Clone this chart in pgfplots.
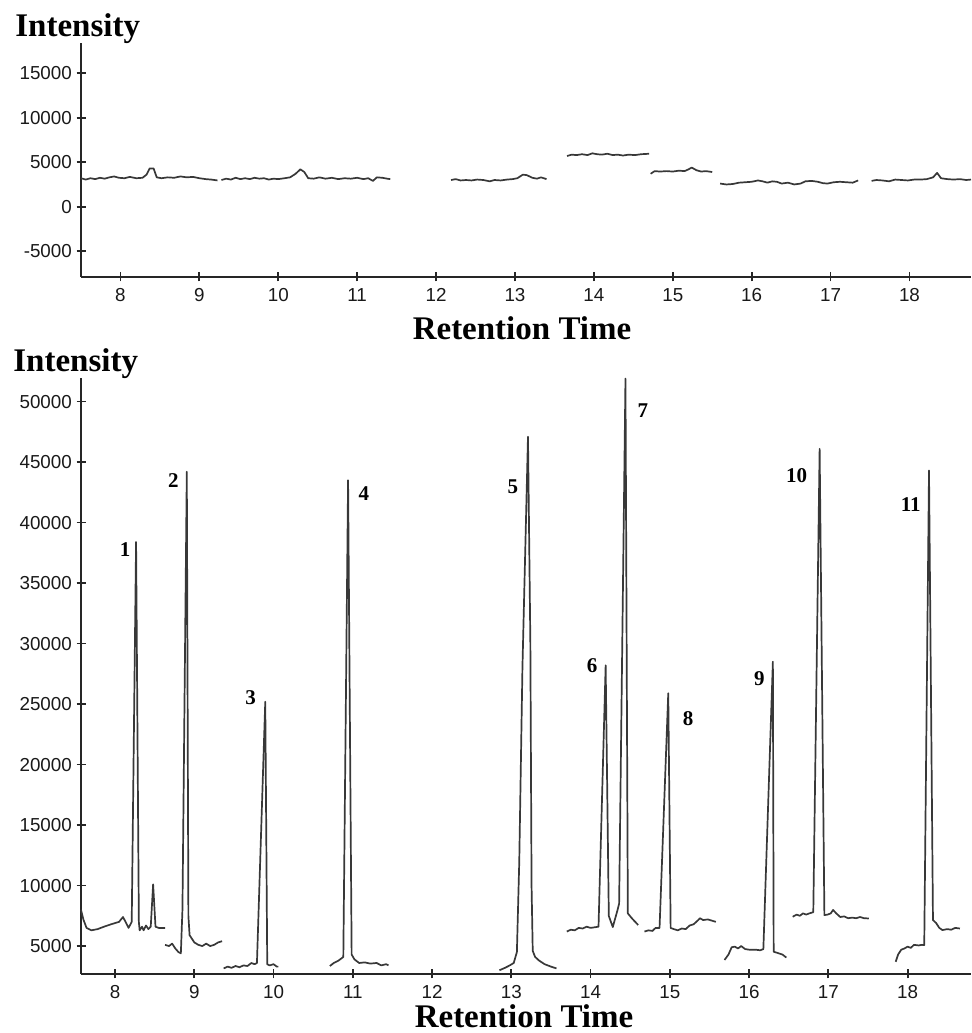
\documentclass[border=0pt]{standalone}
\usepackage{pgfplots}
\pgfplotsset{compat=1.18}
\usepackage{fontspec}
\setmainfont{Liberation Serif}
\newfontfamily\ticksf{Liberation Sans}

\pgfplotsset{
  chrom/.style={
    scale only axis, width=445pt,
    axis lines=left, axis line style={-, line width=0.9pt, black!85},
    tick align=center, major tick length=4.5pt,
    tick style={line width=0.9pt, black!85},
    xtick={8,...,18},
    scaled ticks=false,
    tick label style={font=\ticksf\fontsize{9.4}{11}\selectfont, black!90},
    yticklabel style={xshift=1.2pt},
    /pgf/number format/assume math mode=true,
    /pgf/number format/set thousands separator={},
    clip=false,
  },
  trace/.style={line width=0.85pt, black!78, line join=round, mark=none},
}
\tikzset{pk/.style={font=\bfseries\fontsize{10.5}{12}\selectfont, inner sep=0pt}}

\begin{document}
\begin{tikzpicture}
\path[use as bounding box] (0,0) rectangle (485.5pt,516.5pt);

% ---------- top panel ----------
\begin{axis}[chrom, at={(40.5pt,378pt)}, anchor=south west, height=117pt,
  xmin=7.5, xmax=18.78, ymin=-7900, ymax=18400,
  ytick={-5000,0,5000,10000,15000},
  yticklabels={-5000,0,5000,10000,15000}]
\addplot[trace] coordinates {(7.50,3200)(7.56,3050)(7.62,3200)(7.68,3100)(7.74,3250)(7.80,3150)(7.86,3300)(7.92,3400)(7.98,3250)(8.05,3200)(8.12,3350)(8.20,3200)(8.28,3250)(8.33,3600)(8.37,4300)(8.42,4300)(8.46,3300)(8.52,3200)(8.60,3300)(8.68,3250)(8.76,3400)(8.84,3300)(8.92,3350)(9.00,3200)(9.08,3100)(9.15,3050)(9.23,2950)};
\addplot[trace] coordinates {(9.28,3000)(9.34,3150)(9.40,3050)(9.46,3250)(9.52,3100)(9.58,3200)(9.64,3100)(9.70,3250)(9.76,3150)(9.82,3200)(9.88,3050)(9.94,3150)(10.00,3100)(10.08,3200)(10.15,3300)(10.22,3700)(10.28,4200)(10.33,3900)(10.38,3200)(10.45,3150)(10.52,3300)(10.60,3150)(10.68,3250)(10.76,3100)(10.84,3200)(10.92,3150)(11.00,3250)(11.08,3100)(11.14,3200)(11.20,2900)(11.25,3300)(11.32,3250)(11.38,3150)(11.42,3100)};
\addplot[trace] coordinates {(12.19,3000)(12.25,3100)(12.31,2950)(12.38,3000)(12.45,2950)(12.52,3050)(12.60,3000)(12.68,2850)(12.74,3000)(12.82,2950)(12.90,3050)(12.97,3100)(13.03,3200)(13.10,3600)(13.15,3550)(13.22,3250)(13.28,3150)(13.33,3300)(13.40,3100)};
\addplot[trace] coordinates {(13.66,5700)(13.72,5850)(13.78,5800)(13.85,5900)(13.92,5800)(13.98,6000)(14.04,5900)(14.10,5850)(14.17,5950)(14.24,5800)(14.30,5850)(14.37,5750)(14.44,5850)(14.52,5800)(14.60,5900)(14.70,5950)};
\addplot[trace] coordinates {(14.72,3700)(14.77,4000)(14.84,3950)(14.92,4000)(15.00,3950)(15.08,4050)(15.15,4000)(15.20,4200)(15.24,4400)(15.30,4100)(15.36,3950)(15.42,4000)(15.50,3900)};
\addplot[trace] coordinates {(15.60,2600)(15.68,2500)(15.76,2550)(15.84,2700)(15.92,2750)(16.00,2800)(16.08,2950)(16.14,2850)(16.20,2700)(16.26,2850)(16.32,2800)(16.38,2600)(16.46,2700)(16.54,2500)(16.62,2600)(16.68,2850)(16.76,2900)(16.84,2800)(16.90,2650)(16.96,2600)(17.04,2750)(17.12,2800)(17.20,2750)(17.28,2700)(17.35,2950)};
\addplot[trace] coordinates {(17.52,2900)(17.58,3000)(17.66,2950)(17.74,2850)(17.82,3050)(17.90,3000)(17.98,2950)(18.06,3050)(18.14,3050)(18.22,3100)(18.30,3300)(18.35,3800)(18.40,3200)(18.48,3100)(18.56,3050)(18.64,3100)(18.72,3000)(18.78,3050)};
\end{axis}

% ---------- bottom panel ----------
\begin{axis}[chrom, at={(40.5pt,29.5pt)}, anchor=south west, height=298pt,
  xmin=7.57, xmax=18.8, ymin=2690, ymax=51950,
  ytick={5000,10000,...,50000}]
\addplot[trace] coordinates {(7.57,8000)(7.60,7200)(7.64,6500)(7.70,6300)(7.78,6400)(7.86,6600)(7.95,6800)(8.05,7000)(8.10,7400)(8.14,6900)(8.17,6500)(8.21,7000)(8.265,38400)(8.30,7000)(8.31,6300)(8.34,6600)(8.36,6300)(8.39,6700)(8.42,6400)(8.45,6600)(8.48,10100)(8.51,6600)(8.55,6500)(8.63,6500)};
\addplot[trace] coordinates {(8.63,5100)(8.68,5000)(8.72,5200)(8.76,4800)(8.80,4500)(8.83,4400)(8.85,8000)(8.905,44200)(8.925,7500)(8.94,5900)(9.00,5300)(9.05,5100)(9.10,5000)(9.15,5200)(9.20,5000)(9.25,5100)(9.30,5300)(9.35,5400)};
\addplot[trace] coordinates {(9.37,3150)(9.42,3300)(9.47,3200)(9.52,3350)(9.57,3250)(9.62,3400)(9.67,3350)(9.72,3600)(9.76,3500)(9.79,3600)(9.895,25200)(9.92,3500)(9.95,3400)(10.00,3500)(10.04,3300)(10.06,3300)};
\addplot[trace] coordinates {(10.71,3350)(10.76,3600)(10.82,3800)(10.88,4100)(10.94,43500)(10.985,4300)(11.02,3900)(11.08,3600)(11.15,3650)(11.22,3550)(11.30,3600)(11.36,3400)(11.42,3500)(11.45,3400)};
\addplot[trace] coordinates {(12.85,3000)(12.92,3200)(12.98,3400)(13.03,3600)(13.07,4500)(13.10,12000)(13.14,28000)(13.21,47100)(13.24,30000)(13.255,10000)(13.27,4600)(13.30,4100)(13.35,3800)(13.42,3500)(13.50,3300)(13.57,3150)};
\addplot[trace] coordinates {(13.70,6200)(13.75,6350)(13.80,6300)(13.85,6500)(13.90,6450)(13.95,6600)(14.00,6500)(14.05,6550)(14.10,6600)(14.19,28200)(14.23,7480)(14.28,6570)(14.34,7980)(14.36,8500)(14.44,51900)(14.47,7700)(14.52,7300)(14.60,6740)};
\addplot[trace] coordinates {(14.68,6200)(14.73,6300)(14.78,6250)(14.82,6500)(14.87,6500)(14.98,25900)(15.01,6500)(15.05,6400)(15.10,6300)(15.15,6450)(15.20,6400)(15.25,6700)(15.30,6800)(15.35,7100)(15.38,7300)(15.42,7150)(15.48,7200)(15.53,7100)(15.58,7000)};
\addplot[trace] coordinates {(15.69,3850)(15.74,4300)(15.78,4900)(15.82,4950)(15.86,4800)(15.90,5000)(15.95,4750)(16.00,4700)(16.08,4700)(16.14,4650)(16.18,4750)(16.30,28500)(16.31,4530)(16.35,4450)(16.42,4300)(16.47,4050)};
\addplot[trace] coordinates {(16.55,7420)(16.60,7600)(16.64,7500)(16.68,7700)(16.72,7600)(16.76,7700)(16.81,7800)(16.89,46100)(16.95,7560)(16.99,7600)(17.03,7700)(17.06,7980)(17.10,7700)(17.15,7400)(17.20,7450)(17.25,7300)(17.30,7350)(17.35,7300)(17.40,7400)(17.45,7300)(17.51,7280)};
\addplot[trace] coordinates {(17.85,3700)(17.88,4300)(17.92,4700)(17.96,4800)(18.00,4950)(18.04,4850)(18.08,5100)(18.14,5050)(18.18,5100)(18.21,5080)(18.27,44300)(18.32,7150)(18.36,6900)(18.40,6500)(18.44,6320)(18.50,6400)(18.55,6350)(18.60,6500)(18.66,6450)};
\node[pk] at (axis cs:8.126,37730) {1};
\node[pk] at (axis cs:8.735,43500) {2};
\node[pk] at (axis cs:9.71,25550) {3};
\node[pk] at (axis cs:11.14,42400) {4};
\node[pk] at (axis cs:13.02,42960) {5};
\node[pk] at (axis cs:14.02,28140) {6};
\node[pk] at (axis cs:14.66,49240) {7};
\node[pk] at (axis cs:15.23,23820) {8};
\node[pk] at (axis cs:16.13,27120) {9};
\node[pk] at (axis cs:16.60,43840) {10};
\node[pk] at (axis cs:18.04,41450) {11};
\end{axis}

% ---------- titles ----------
\node[anchor=base west, inner sep=0pt, font=\bfseries\fontsize{16.5}{18}\selectfont] at (7.5pt,498pt) {Intensity};
\node[anchor=base, inner sep=0pt, font=\bfseries\fontsize{16.5}{18}\selectfont] at (261pt,346.5pt) {Retention Time};
\node[anchor=base west, inner sep=0pt, font=\bfseries\fontsize{16.5}{18}\selectfont] at (6.5pt,330.7pt) {Intensity};
\node[anchor=base, inner sep=0pt, font=\bfseries\fontsize{16.5}{18}\selectfont] at (262pt,2.5pt) {Retention Time};
\end{tikzpicture}
\end{document}
